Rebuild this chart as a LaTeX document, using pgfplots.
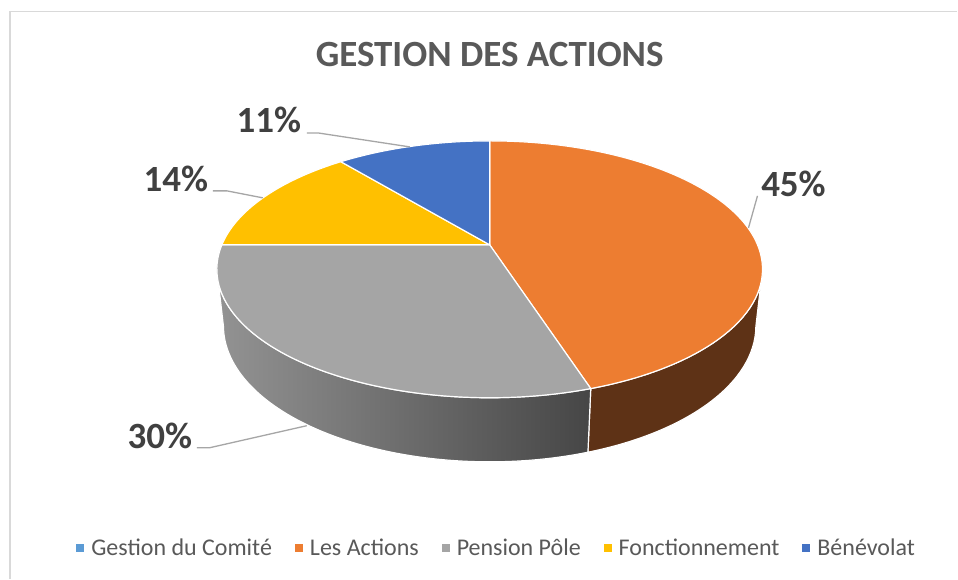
\documentclass[border=0pt]{standalone}
\usepackage{fontspec}
\setmainfont{Carlito}
\usepackage{pgfplots}
\usepackage{pgfplotstable}
\pgfplotsset{compat=1.18}

\definecolor{cComite}{HTML}{5B9BD5}
\definecolor{cActions}{HTML}{ED7D31}
\definecolor{cPension}{HTML}{A5A5A5}
\definecolor{cFonct}{HTML}{FFC000}
\definecolor{cBenev}{HTML}{4472C4}
\definecolor{wallOrange}{HTML}{5E3216}
\definecolor{wallGrayL}{HTML}{939393}
\definecolor{wallGrayR}{HTML}{464646}
\definecolor{cTitle}{HTML}{595959}
\definecolor{cLabel}{HTML}{404040}
\definecolor{cLeader}{HTML}{A6A6A6}
\definecolor{cFrame}{HTML}{D9D9D9}

% shares in percent, in the order of the legend
\pgfplotstableread{
name      share
Comite    0
Actions   45
Pension   30
Fonct     14
Benevolat 11
}\piedata

% perspective of the 3-D pie (1 axis unit = 1pt)
\def\pk{1247}\def\pd{4.653}\def\pc{0.887}\def\ps{0.462}\def\ph{0.24}
% parameter angle on the projected ellipse for the circle angle #1 at height #2
\newcommand\elpar[5]{%
  \pgfmathsetmacro\pw{\pd+sin(#1)*\pc-(#2)*\ps}%
  \pgfmathsetmacro\px{\pk*cos(#1)/\pw/#4}%
  \pgfmathsetmacro\py{(334+\pk*(sin(#1)*\ps+(#2)*\pc)/\pw-#3)/#5}%
  \pgfmathsetmacro\tdiff{atan2(\py,\px)-(#1)}%
  \pgfmathsetmacro\tpar{(#1)+atan2(sin(\tdiff),cos(\tdiff))}%
}
\newcommand\topslice[3]{%
  \elpar{#1}{0}{309.5}{273}{128.5}\let\ta\tpar
  \elpar{#2}{0}{309.5}{273}{128.5}\let\tb\tpar
  \fill[#3, draw=white, line width=1.2pt, line join=round]
    (490,334) -- ({490+273*cos(\ta)},{309.5+128.5*sin(\ta)})
    arc[start angle=\ta, end angle=\tb, x radius=273pt, y radius=128.5pt] -- cycle;
}
\newcommand\wallpart[3]{%
  \elpar{#1}{0}{309.5}{273}{128.5}\let\ta\tpar
  \elpar{#2}{0}{309.5}{273}{128.5}\let\tb\tpar
  \elpar{#2}{-\ph}{252.9}{266.4}{136.05}\let\tc\tpar
  \elpar{#1}{-\ph}{252.9}{266.4}{136.05}\let\td\tpar
  \path[#3, draw=white, line width=1.2pt, line join=round]
    ({490+273*cos(\ta)},{309.5+128.5*sin(\ta)})
    arc[start angle=\ta, end angle=\tb, x radius=273pt, y radius=128.5pt]
    -- ({490+266.4*cos(\tc)},{252.9+136.05*sin(\tc)})
    arc[start angle=\tc, end angle=\td, x radius=266.4pt, y radius=136.05pt] -- cycle;
}
\newcommand\sidewall[3]{%
  \pgfplotstablegetelem{#1}{share}\of\piedata
  \pgfmathsetmacro\thB{\thA-3.6*\pgfplotsretval}%
  \pgfmathsetmacro\wa{max(\thB,-169)}%
  \pgfmathsetmacro\wb{min(\thA,-11)}%
  \pgfmathtruncatemacro\wok{\wb>\wa}%
  \ifnum\wok=1 \wallpart{\wa}{\wb}{left color=#2, right color=#3}\fi
  \global\let\thA\thB
}
\newcommand\slice[2]{%
  \pgfplotstablegetelem{#1}{share}\of\piedata
  \pgfmathsetmacro\thB{\thA-3.6*\pgfplotsretval}%
  \ifdim\pgfplotsretval pt>0pt \topslice{\thA}{\thB}{#2}\fi
  \global\let\thA\thB
}
\newcommand\lblfont{\fontsize{37}{44}\selectfont\bfseries}

\begin{document}
\begin{tikzpicture}
\begin{axis}[
  width=958pt, height=579pt, scale only axis,
  xmin=0, xmax=958, ymin=0, ymax=579,
  hide axis, clip=false,
  legend columns=5,
  legend image code/.code={\fill[#1, draw=none] (0pt,-3.5pt) rectangle (8pt,4pt);},
  legend style={draw=none, fill=none, inner sep=0pt,
    at={(0.5177,0.0527)}, anchor=center,
    font=\fontsize{24}{28}\selectfont, text=cTitle,
    nodes={inner sep=0pt}, column sep=7pt,
    /tikz/every even column/.append style={column sep=23pt}},
]
\pgfplotsextra{%
  \fill[white] (0,0) rectangle (958,579);
  \draw[cFrame, line width=1.3pt] (10,0) -- (10,567.5) -- (958,567.5);
  % side walls first
  \gdef\thA{90}%
  \sidewall{0}{cComite}{cComite}%
  \sidewall{1}{wallOrange}{wallOrange}%
  \sidewall{2}{wallGrayL}{wallGrayR}%
  \sidewall{3}{cFonct}{cFonct}%
  \sidewall{4}{cBenev}{cBenev}%
  % top faces, clockwise from 12 o'clock
  \gdef\thA{90}%
  \slice{0}{cComite}%
  \slice{1}{cActions}%
  \slice{2}{cPension}%
  \slice{3}{cFonct}%
  \slice{4}{cBenev}%
}
\addlegendimage{fill=cComite}
\addlegendimage{fill=cActions}
\addlegendimage{fill=cPension}
\addlegendimage{fill=cFonct}
\addlegendimage{fill=cBenev}
\legend{Gestion du Comité, Les Actions, Pension Pôle, Fonctionnement, Bénévolat}

\node[font=\fontsize{37}{44}\selectfont\bfseries, text=cTitle, anchor=base]
  at (axis cs:490,512.3) {GESTION DES ACTIONS};

% data labels with leader lines
\draw[cLeader, line width=1.3pt] (axis cs:758,383) -- (axis cs:749,351);
\draw[cLeader, line width=1.3pt] (axis cs:307,446) -- (axis cs:318,446) -- (axis cs:410,432);
\draw[cLeader, line width=1.3pt] (axis cs:213,388) -- (axis cs:227,388) -- (axis cs:263,381);
\draw[cLeader, line width=1.3pt] (axis cs:197,131) -- (axis cs:210,131) -- (axis cs:307,153);
\node[font=\lblfont, text=cLabel, anchor=base] at (axis cs:794,382) {45\%};
\node[font=\lblfont, text=cLabel, anchor=base] at (axis cs:269,446) {11\%};
\node[font=\lblfont, text=cLabel, anchor=base] at (axis cs:176,387) {14\%};
\node[font=\lblfont, text=cLabel, anchor=base] at (axis cs:160,130) {30\%};
\end{axis}
\end{tikzpicture}
\end{document}
